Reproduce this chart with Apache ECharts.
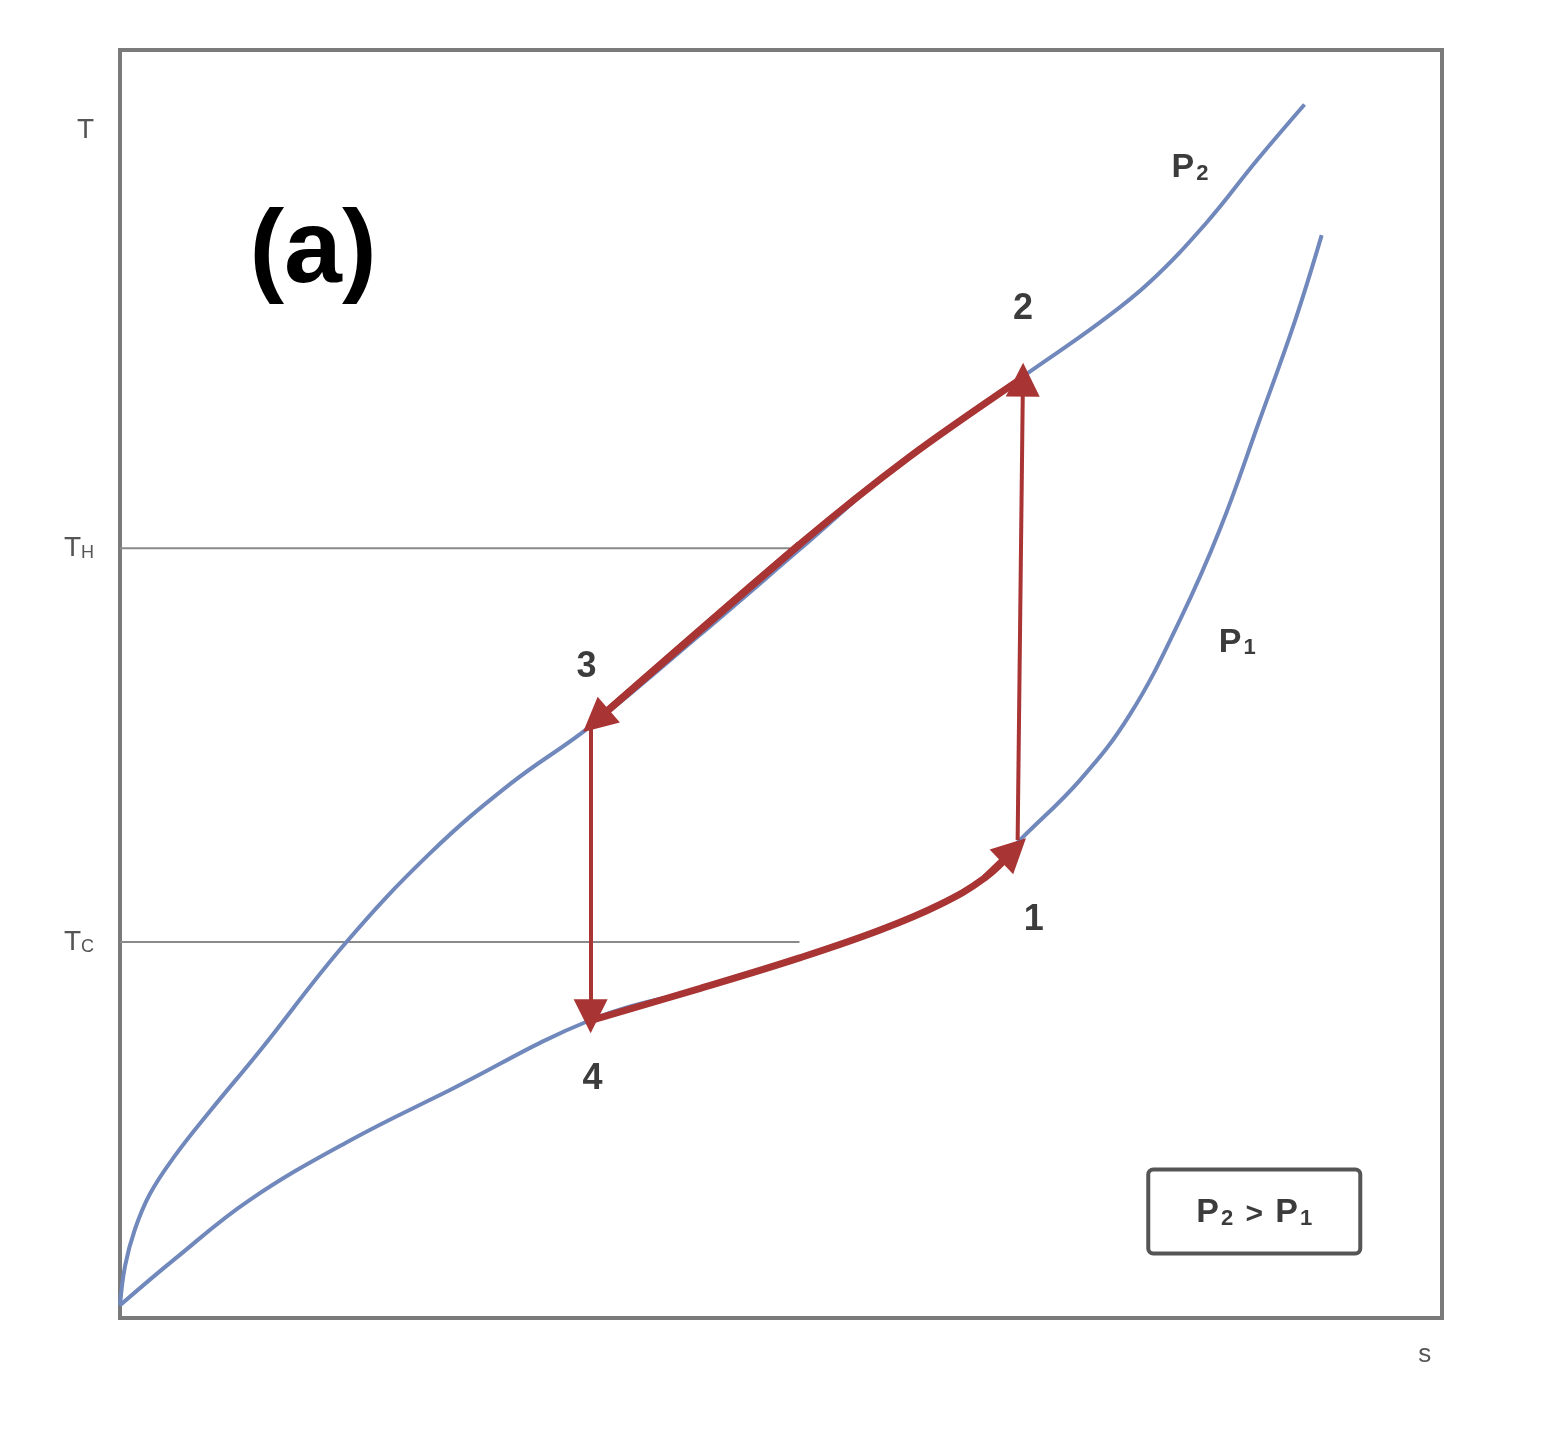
<!DOCTYPE html>
<html>
<head>
<meta charset="utf-8">
<script src="https://cdn.jsdelivr.net/npm/echarts@6/dist/echarts.min.js"></script>
<style>
  html, body { margin: 0; padding: 0; background: #fff; }
  #chart { width: 1562px; height: 1432px; }
</style>
</head>
<body>
<div id="chart"></div>
<script>
// T-s diagram, both axes in 0..100 plot units
var p2Curve = [[0,1.0],[0.38,4.1],[1.13,7.0],[2.27,9.8],[4.16,12.8],[6.8,16.3],[10.6,21.1],[17.0,29.5],[23.4,36.6],[29.5,42.1],[35.5,46.6],[43.9,53.9],[51.4,60.6],[59.0,67.4],[68.5,74.4],[74.1,78.5],[77.9,81.7],[82.2,86.4],[86.0,91.3],[89.6,95.7]];
var p1Curve = [[0,1.0],[4.2,4.7],[9.8,9.3],[17.4,14.0],[25.0,18.0],[35.6,23.5],[43.9,26.0],[51.4,28.4],[57.5,30.6],[62.0,32.6],[65.4,34.7],[67.9,37.5],[72.6,42.4],[76.4,47.6],[80.2,55.1],[83.2,62.2],[86.2,70.8],[88.9,78.7],[90.9,85.4]];

// cycle state points 1..4
var stateNames = ['1', '2', '3', '4'];
var statePts = [[67.9,37.7],[68.3,74.2],[35.6,46.6],[35.6,23.6]];
var stateLabelOffset = [[16,80],[0,-68],[-4,-60],[2,60]];

// process paths (each ends where the arrow points)
var path12 = [[67.9,37.7],[68.3,74.0]];
var path23 = [[68.2,74.1],[59.7,67.9],[51.4,61.0],[36.0,47.1]];
var path34 = [[35.6,46.6],[35.6,23.8]];
var path41 = [[35.7,23.5],[43.9,26.0],[51.4,28.4],[57.5,30.6],[62.0,32.6],[65.4,34.7],[67.6,36.9]];

var TH = 60.7, TC = 29.65, T_TOP = 93.7, S_RIGHT = 98.7;
var thLine = [[0,TH],[50.7,TH]];
var tcLine = [[0,TC],[51.4,TC]];

var blue = '#7088bb', red = '#a83434';

function lastSeg(p) { return { coords: [p[p.length-2], p[p.length-1]] }; }

var yLabels = {};
yLabels[T_TOP] = '{t|T}';
yLabels[TH] = '{t|T}{sub|H}';
yLabels[TC] = '{t|T}{sub|C}';

var chart = echarts.init(document.getElementById('chart'));
chart.setOption({
  backgroundColor: '#fff',
  animation: false,
  grid: { left: 120, right: 120, top: 50, bottom: 114, show: true, borderColor: '#7a7a7a', borderWidth: 4, backgroundColor: 'transparent' },
  xAxis: {
    type: 'value', min: 0, max: 100,
    axisLine: { show: false }, axisTick: { show: false }, splitLine: { show: false },
    axisLabel: { customValues: [S_RIGHT], margin: 24, color: '#555', fontSize: 26, fontFamily: 'Liberation Sans', formatter: function () { return 's'; } }
  },
  yAxis: {
    type: 'value', min: 0, max: 100,
    axisLine: { show: false }, axisTick: { show: false }, splitLine: { show: false },
    axisLabel: {
      customValues: [TC, TH, T_TOP], margin: 26, color: '#555',
      formatter: function (v) { return yLabels[v] || ''; },
      rich: {
        t: { fontSize: 28, fontFamily: 'Liberation Sans', color: '#555', verticalAlign: 'bottom' },
        sub: { fontSize: 18, fontFamily: 'Liberation Sans', color: '#555', padding: [10,0,0,0], verticalAlign: 'bottom' }
      }
    }
  },
  series: [
    { type: 'line', data: thLine, symbol: 'none', lineStyle: { color: '#8a8a8a', width: 2 }, z: 1 },
    { type: 'line', data: tcLine, symbol: 'none', lineStyle: { color: '#8a8a8a', width: 2 }, z: 1 },
    { type: 'line', data: p2Curve, smooth: 0.4, symbol: 'none', lineStyle: { color: blue, width: 4 }, z: 2 },
    { type: 'line', data: p1Curve, smooth: 0.4, symbol: 'none', lineStyle: { color: blue, width: 4 }, z: 2 },
    { type: 'line', data: path23, smooth: 0.3, symbol: 'none', lineStyle: { color: red, width: 7 }, z: 3 },
    { type: 'line', data: path41, smooth: 0.4, symbol: 'none', lineStyle: { color: red, width: 7 }, z: 3 },
    {
      type: 'lines', coordinateSystem: 'cartesian2d', z: 4,
      symbol: ['none', 'triangle'], symbolSize: [30, 34],
      lineStyle: { color: red, width: 4, opacity: 1 },
      data: [{ coords: path12 }, { coords: path34 }]
    },
    {
      type: 'lines', coordinateSystem: 'cartesian2d', z: 4,
      symbol: ['none', 'triangle'], symbolSize: [30, 34],
      lineStyle: { color: red, width: 7, opacity: 1 },
      data: [lastSeg(path23), lastSeg(path41)]
    },
    {
      type: 'scatter', symbolSize: 0, z: 5, itemStyle: { opacity: 1 },
      data: statePts.map(function (p, i) {
        return { value: p, label: { show: true, formatter: stateNames[i], offset: stateLabelOffset[i] } };
      }),
      label: { position: 'inside', fontSize: 36, fontFamily: 'Liberation Sans', fontWeight: 'bold', color: '#3c3c3c' }
    },
    {
      type: 'scatter', symbolSize: 0, z: 5, itemStyle: { opacity: 1 },
      data: [
        { value: [81.7, 86.4], label: { show: true, formatter: '{p|P}{s|2}', offset: [-10, -56] } },
        { value: [80.2, 55.1], label: { show: true, formatter: '{p|P}{s|1}', offset: [57, 22] } },
        { value: [85.8, 8.4], label: { show: true, formatter: '{p|P}{s|2}{g| > }{p|P}{s|1}', offset: [0, 0],
          borderColor: '#555', borderWidth: 4, borderRadius: 3, padding: [22, 46, 22, 46], backgroundColor: '#fff' } }
      ],
      label: {
        position: 'inside',
        rich: {
          p: { fontSize: 34, fontWeight: 'bold', fontFamily: 'Liberation Sans', color: '#3c3c3c', verticalAlign: 'bottom' },
          s: { fontSize: 22, fontWeight: 'bold', fontFamily: 'Liberation Sans', color: '#3c3c3c', padding: [14,0,0,2], verticalAlign: 'bottom' },
          g: { fontSize: 30, fontWeight: 'bold', fontFamily: 'Liberation Sans', color: '#3c3c3c', verticalAlign: 'bottom', padding: [0,4,0,4] }
        }
      }
    },
    {
      type: 'scatter', symbolSize: 0, z: 5, itemStyle: { opacity: 1 },
      data: [{ value: [14.6, 84.0], label: { show: true, formatter: '(a)' } }],
      label: { position: 'inside', fontSize: 104, fontWeight: 'bold', fontFamily: 'Liberation Sans', color: '#000' }
    }
  ]
});
</script>
</body>
</html>
